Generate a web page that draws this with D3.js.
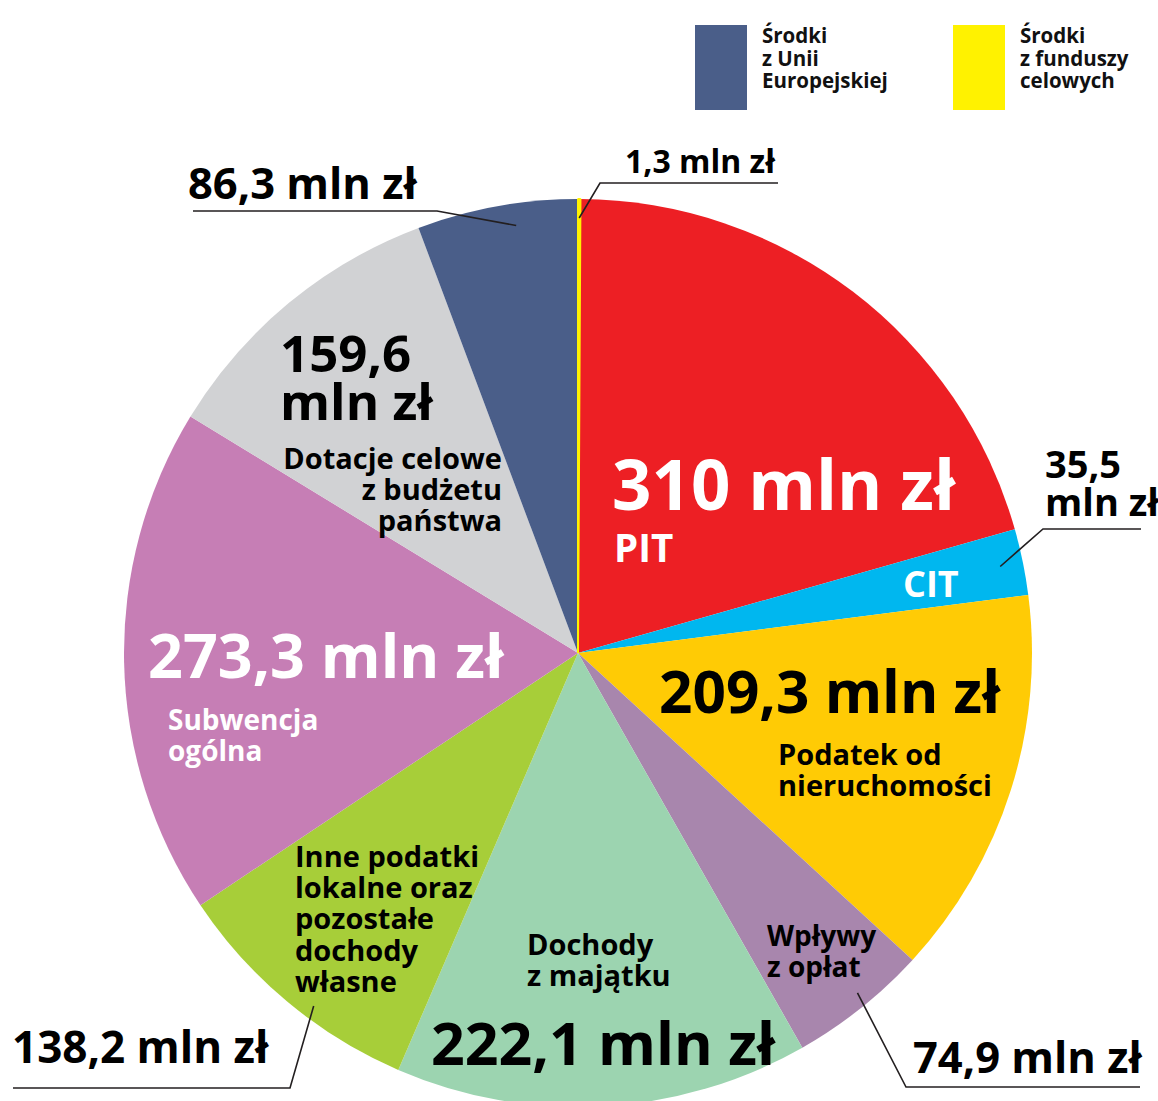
<!DOCTYPE html>
<html lang="pl">
  <head>
    <meta charset="utf-8" />
    <title>Dochody budżetu</title>
    <script src="https://d3js.org/d3.v7.min.js"></script>
    <style>
      body {
        margin: 0;
        background: #fff;
      }
      svg {
        display: block;
        font-family: 'Open Sans', sans-serif;
        font-weight: 700;
      }
      .leader {
        fill: none;
        stroke: #231f20;
        stroke-width: 1.6;
      }
    </style>
  </head>
  <body>
    <div id="chart"></div>
    <script>
      /* ------------------------------ DATA ------------------------------ */
      // slices clockwise from 12 o'clock
      const categories = [
        'Środki z funduszy celowych',
        'PIT',
        'CIT',
        'Podatek od nieruchomości',
        'Wpływy z opłat',
        'Dochody z majątku',
        'Inne podatki lokalne oraz pozostałe dochody własne',
        'Subwencja ogólna',
        'Dotacje celowe z budżetu państwa',
        'Środki z Unii Europejskiej',
      ];
      const values = [1.3, 310, 35.5, 209.3, 74.9, 222.1, 138.2, 273.3, 159.6, 86.3];
      const valueLabels = [
        '1,3 mln zł',
        '310 mln zł',
        '35,5 mln zł',
        '209,3 mln zł',
        '74,9 mln zł',
        '222,1 mln zł',
        '138,2 mln zł',
        '273,3 mln zł',
        '159,6 mln zł',
        '86,3 mln zł',
      ];
      const nameLines = [
        [],
        ['PIT'],
        ['CIT'],
        ['Podatek od', 'nieruchomości'],
        ['Wpływy', 'z opłat'],
        ['Dochody', 'z majątku'],
        ['Inne podatki', 'lokalne oraz', 'pozostałe', 'dochody', 'własne'],
        ['Subwencja', 'ogólna'],
        ['Dotacje celowe', 'z budżetu', 'państwa'],
        [],
      ];
      const legendItems = [
        { idx: 9, lines: ['Środki', 'z Unii', 'Europejskiej'] },
        { idx: 0, lines: ['Środki', 'z funduszy', 'celowych'] },
      ];

      /* ----------------------------- CONFIG ----------------------------- */
      const W = 1158,
        H = 1101,
        cx = 578,
        cy = 653,
        R = 454;

      const colors = [
        '#fff200',
        '#ed1f24',
        '#00b7ef',
        '#ffcb05',
        '#a886ad',
        '#9cd4b0',
        '#a7ce39',
        '#c67eb5',
        '#d1d2d4',
        '#4a5e89',
      ];

      // value label: x, baseline y, size, colour, split into 2 lines?, line step
      // name label: x, first baseline, size, line step, anchor, colour
      // leader: angle fraction inside slice, radius, elbow point, end of underline
      const layout = [
        { v: [625, 173, 32, '#000'], leader: [0.5, 435, [600, 183], [778, 183]] },
        { v: [612, 510, 69, '#fff'], n: [614, 562, 38.5, 0, 'start', '#fff'] },
        { v: [1045, 478, 38, '#000', true, 38], n: [903, 597, 36, 0, 'start', '#fff'],
          leader: [0.5, 431, [1043, 529], [1141, 529]] },
        { v: [659, 713, 58.5, '#000'], n: [778, 765, 29, 31, 'start', '#000'] },
        { v: [913, 1073, 43.5, '#000'], n: [767, 946, 28, 31, 'start', '#000'],
          leader: [0.45, 440, [906, 1087], [1140, 1087]] },
        { v: [431, 1065, 59, '#000'], n: [527, 955, 29, 31, 'start', '#000'] },
        { v: [12, 1063, 44, '#000'], n: [295, 867, 29, 31.2, 'start', '#000'],
          leader: [0.41, 441, [290, 1088], [13, 1088]] },
        { v: [148, 678, 61, '#fff'], n: [168, 730, 28, 31, 'start', '#fff'] },
        { v: [280, 372, 51, '#000', true, 48], n: [502, 469, 29, 31, 'end', '#000'] },
        { v: [188, 199, 43.5, '#000'], leader: [0.6, 432, [437, 211], [193, 211]] },
      ];

      /* ------------------------------ SVG ------------------------------- */
      const svg = d3
        .select('#chart')
        .append('svg')
        .attr('width', W)
        .attr('height', H)
        .attr('viewBox', [0, 0, W, H]);

      /* ------------------------------ PIE ------------------------------- */
      const pie = d3
        .pie()
        .sort(null)
        .value((d) => d)
        .startAngle(0)
        .endAngle(2 * Math.PI);
      const arcs = pie(values);
      const arc = d3.arc().innerRadius(0).outerRadius(R);

      const g = svg.append('g').attr('transform', `translate(${cx},${cy})`);
      g.selectAll('path.slice')
        .data(arcs)
        .join('path')
        .attr('class', 'slice')
        .attr('fill', (d, i) => colors[i])
        .attr('d', arc);

      // the thin yellow sliver reads as a band in the original
      g.append('path')
        .attr('d', arc(arcs[0]))
        .attr('fill', colors[0])
        .attr('stroke', colors[0])
        .attr('stroke-width', 2)
        .attr('stroke-linejoin', 'bevel');

      /* ----------------------------- LEADERS ---------------------------- */
      const pointAt = (a, r) =>
        d3.arc().innerRadius(r).outerRadius(r).centroid({ startAngle: a, endAngle: a });

      arcs.forEach((d, i) => {
        const L = layout[i].leader;
        if (!L) return;
        const a = d.startAngle + (d.endAngle - d.startAngle) * L[0];
        const p = pointAt(a, L[1]);
        svg
          .append('path')
          .attr('class', 'leader')
          .attr('d', d3.line()([[cx + p[0], cy + p[1]], L[2], L[3]]));
      });

      /* ----------------------------- LABELS ----------------------------- */
      layout.forEach((l, i) => {
        const [x, y, size, col, split, step] = l.v;
        const t = svg
          .append('text')
          .attr('x', x)
          .attr('y', y)
          .attr('fill', col)
          .attr('font-size', size);
        if (split) {
          const parts = valueLabels[i].split(' ');
          t.append('tspan').attr('x', x).text(parts[0]);
          t.append('tspan').attr('x', x).attr('dy', step).text(parts.slice(1).join(' '));
        } else {
          t.text(valueLabels[i]);
        }

        if (l.n && nameLines[i].length) {
          const [nx, ny, ns, nstep, anchor, ncol] = l.n;
          svg
            .append('text')
            .attr('fill', ncol)
            .attr('font-size', ns)
            .attr('text-anchor', anchor)
            .selectAll('tspan')
            .data(nameLines[i])
            .join('tspan')
            .attr('x', nx)
            .attr('y', (_, k) => ny + k * nstep)
            .text((s) => s);
        }
      });

      /* ----------------------------- LEGEND ----------------------------- */
      const legend = svg
        .selectAll('g.legend')
        .data(legendItems)
        .join('g')
        .attr('class', 'legend')
        .attr('transform', (_, k) => `translate(${695 + k * 258}, 25)`);

      legend
        .append('rect')
        .attr('width', 52)
        .attr('height', 85)
        .attr('fill', (d) => colors[d.idx]);

      legend
        .append('text')
        .attr('font-size', 20.5)
        .attr('fill', '#111')
        .selectAll('tspan')
        .data((d) => d.lines)
        .join('tspan')
        .attr('x', 67)
        .attr('y', (_, k) => 18 + k * 22.5)
        .text((s) => s);
    </script>
  </body>
</html>
